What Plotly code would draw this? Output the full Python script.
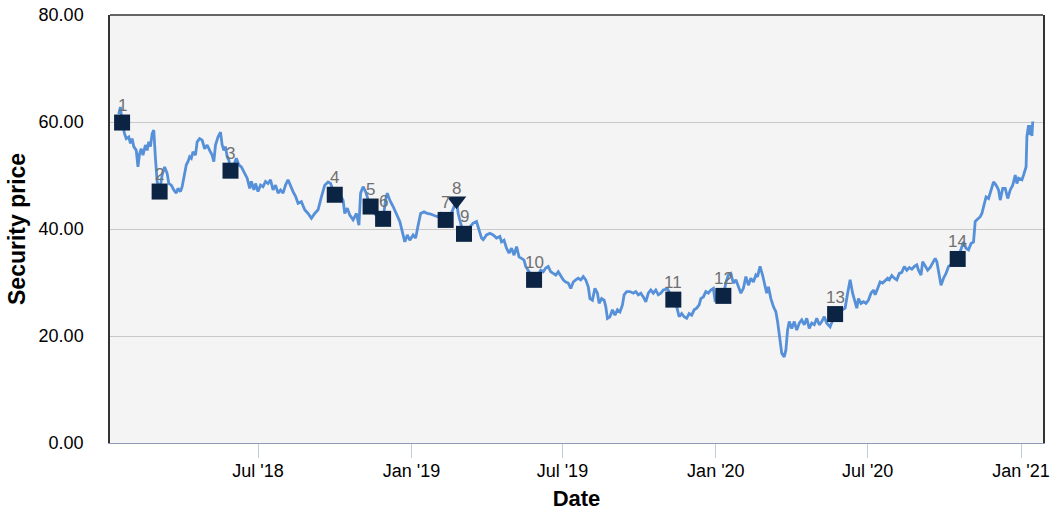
import pandas as pd
import plotly.graph_objects as go

BASE_DATE = pd.Timestamp("2018-01-01")

# security price series: days since BASE_DATE and price
price_days = [14, 16, 18, 19, 21, 23, 26, 28, 30, 32, 35, 37, 39, 41, 43, 46, 48, 50, 52, 54, 56, 58, 60, 63,
              66, 69, 72, 74, 77, 80, 83, 85, 88, 90, 92, 95, 97, 99, 101, 103, 106, 108, 111, 114, 117, 120,
              123, 126, 128, 130, 133, 136, 138, 140, 142, 144, 146, 148, 152, 155, 158, 161, 165, 168, 171,
              173, 176, 178, 181, 184, 187, 190, 193, 196, 199, 202, 205, 208, 211, 214, 217, 220, 223, 226,
              229, 233, 237, 241, 245, 249, 253, 257, 261, 265, 268, 273, 278, 283, 285, 288, 291, 295, 299,
              302, 304, 307, 310, 313, 316, 320, 326, 331, 334, 336, 339, 343, 347, 351, 354, 357, 360, 363,
              367, 370, 373, 376, 380, 384, 388, 392, 396, 400, 406, 409, 413, 419, 421, 425, 428, 433, 439,
              443, 446, 449, 451, 455, 459, 463, 467, 471, 473, 476, 479, 482, 485, 488, 491, 494, 497, 500,
              502, 507, 512, 517, 520, 523, 526, 529, 532, 535, 538, 541, 544, 547, 550, 553, 556, 559, 562,
              565, 568, 571, 574, 577, 579, 582, 585, 588, 590, 593, 596, 598, 600, 603, 606, 609, 612, 615,
              618, 620, 623, 627, 631, 634, 637, 640, 643, 646, 649, 652, 655, 658, 661, 664, 667, 672, 679,
              683, 686, 689, 692, 695, 698, 701, 704, 707, 710, 712, 715, 718, 721, 724, 727, 729, 734, 739,
              742, 745, 748, 751, 754, 757, 760, 763, 766, 769, 772, 775, 778, 780, 783, 786, 788, 791, 793,
              796, 799, 802, 804, 807, 809, 812, 814, 816, 818, 821, 824, 827, 830, 833, 836, 839, 842, 845,
              848, 851, 854, 857, 860, 863, 867, 873, 878, 885, 888, 891, 894, 897, 899, 901, 904, 907, 910,
              913, 916, 919, 921, 924, 927, 930, 933, 936, 938, 941, 944, 947, 950, 953, 956, 959, 962, 965,
              968, 971, 973, 976, 978, 981, 984, 987, 990, 993, 995, 998, 1000, 1003, 1006, 1009, 1014, 1020,
              1024, 1027, 1030, 1033, 1036, 1039, 1041, 1043, 1047, 1049, 1052, 1054, 1057, 1060, 1063, 1066,
              1069, 1071, 1074, 1077, 1080, 1083, 1086, 1089, 1091, 1093, 1097, 1099, 1102, 1103, 1105, 1106,
              1107, 1109, 1110]
price_vals = [61.5, 62.8, 59.9, 59.0, 57.8, 56.9, 57.2, 56.0, 56.9, 55.4, 54.7, 51.6, 54.1, 55.0, 53.8, 55.7,
              54.7, 56.3, 55.4, 57.8, 58.5, 53.2, 48.9, 47.0, 50.1, 51.6, 50.4, 48.5, 48.2, 47.3, 46.7, 47.6,
              47.0, 47.9, 49.5, 52.0, 52.6, 53.5, 53.2, 54.4, 53.8, 56.3, 56.9, 56.6, 55.0, 55.7, 54.7, 53.8,
              52.6, 55.7, 57.2, 58.1, 55.7, 54.7, 55.4, 53.5, 52.9, 50.9, 52.0, 53.2, 52.0, 51.6, 50.4, 49.5,
              47.6, 48.9, 47.3, 48.5, 47.0, 48.2, 47.9, 48.9, 48.5, 49.2, 47.3, 48.2, 46.7, 47.3, 46.7, 48.2,
              49.2, 47.9, 47.0, 46.1, 44.8, 45.1, 43.6, 42.9, 42.0, 42.9, 43.6, 46.0, 48.2, 48.8, 48.5, 46.4,
              46.8, 45.4, 42.9, 43.9, 42.6, 41.7, 42.9, 40.7, 46.7, 47.9, 47.0, 45.5, 44.2, 43.0, 42.0, 41.9,
              45.5, 46.7, 45.4, 44.2, 42.9, 41.4, 39.5, 37.6, 38.9, 37.9, 38.9, 38.3, 40.7, 42.9, 43.2, 42.9,
              42.8, 42.6, 42.3, 42.9, 41.7, 40.7, 43.0, 45.3, 42.9, 40.5, 39.1, 40.0, 41.1, 41.4, 39.8, 38.3,
              38.0, 38.9, 39.2, 38.9, 38.3, 38.6, 37.6, 37.9, 36.4, 35.5, 36.4, 35.1, 36.7, 34.8, 34.5, 34.2,
              33.0, 31.8, 30.5, 31.5, 32.3, 32.0, 32.7, 33.0, 32.0, 31.7, 31.4, 32.0, 31.1, 30.5, 30.1, 29.9,
              28.9, 30.1, 30.5, 30.8, 30.5, 31.1, 30.5, 29.2, 27.0, 26.7, 28.9, 28.0, 26.1, 27.0, 26.7, 25.5,
              23.3, 23.6, 24.9, 23.9, 24.9, 24.5, 25.8, 27.7, 28.3, 28.3, 28.0, 28.3, 27.7, 28.0, 27.3, 26.4,
              28.0, 28.6, 28.0, 28.6, 27.7, 28.0, 28.6, 28.8, 26.8, 25.5, 23.6, 24.2, 23.6, 23.3, 24.2, 23.9,
              24.9, 25.2, 25.8, 27.0, 27.3, 28.3, 28.0, 28.6, 28.9, 26.7, 27.2, 27.5, 30.0, 31.4, 31.7, 29.9,
              30.5, 29.2, 28.0, 28.9, 31.1, 29.5, 30.8, 30.1, 31.4, 31.1, 33.0, 31.4, 29.9, 28.0, 29.2, 27.0,
              25.5, 24.5, 22.7, 19.6, 16.8, 16.1, 17.4, 21.1, 22.7, 21.4, 22.7, 21.1, 22.4, 23.0, 22.1, 23.3,
              21.4, 22.4, 22.1, 23.3, 22.1, 22.7, 23.6, 22.4, 21.7, 24.1, 24.6, 25.2, 28.0, 30.5, 28.0, 26.1,
              25.2, 27.0, 26.1, 26.4, 26.1, 26.7, 28.0, 28.6, 27.7, 28.9, 30.1, 29.9, 30.3, 30.8, 30.5, 31.3,
              30.8, 30.5, 31.7, 31.9, 33.0, 32.3, 32.8, 32.5, 33.0, 33.3, 32.3, 31.4, 33.9, 33.0, 32.3, 32.8,
              33.6, 34.5, 33.9, 31.1, 29.5, 30.8, 31.7, 33.0, 33.5, 34.4, 36.5, 37.6, 36.4, 36.1, 37.3, 37.6,
              41.4, 41.7, 42.3, 42.9, 44.8, 46.0, 45.7, 47.3, 48.8, 48.2, 47.3, 45.4, 47.6, 47.6, 45.7, 47.3,
              48.2, 50.1, 48.5, 49.5, 49.2, 50.1, 51.6, 57.3, 59.4, 57.6, 59.4, 57.4, 60.1]

# trade markers
marker_labels = ["1", "2", "3", "4", "5", "6", "7", "8", "9", "10", "11", "12", "13", "14"]
marker_days = [18, 63, 148, 273, 316, 331, 406, 419, 428, 512, 679, 739, 873, 1020]
marker_vals = [59.9, 47.0, 50.9, 46.4, 44.2, 41.9, 41.7, 45.3, 39.1, 30.5, 26.8, 27.5, 24.1, 34.4]
marker_kinds = ["square"] * 7 + ["triangle-down"] + ["square"] * 6

tick_dates = ["2018-07-01", "2019-01-01", "2019-07-01", "2020-01-01", "2020-07-01", "2021-01-01"]
tick_labels = ["Jul '18", "Jan '19", "Jul '19", "Jan '20", "Jul '20", "Jan '21"]
y_ticks = [0, 20, 40, 60, 80]

# styles
marker_sizes = [16 if k == "square" else 17 for k in marker_kinds]
label_shifts = [17 if k == "square" else 12 for k in marker_kinds]

price_dates = BASE_DATE + pd.to_timedelta(price_days, unit="D")
marker_dates = BASE_DATE + pd.to_timedelta(marker_days, unit="D")

FONT = "Arial, Liberation Sans, sans-serif"

fig = go.Figure()
fig.add_trace(go.Scatter(
    x=price_dates, y=price_vals, mode="lines",
    line=dict(color="#5590d9", width=2.8), hoverinfo="skip", showlegend=False))
fig.add_trace(go.Scatter(
    x=marker_dates, y=marker_vals, mode="markers",
    marker=dict(symbol=marker_kinds, size=marker_sizes, color="#0c2444",
                opacity=1, line=dict(width=0)),
    showlegend=False))

annotations = [
    dict(x=d, y=v, text=t, showarrow=False, xanchor="center", yanchor="middle",
         yshift=s, font=dict(family=FONT, size=17, color="#707070"))
    for d, v, t, s in zip(marker_dates, marker_vals, marker_labels, label_shifts)
]
annotations.append(dict(
    text="<b>Security price</b>", xref="paper", yref="paper", x=0, y=0.5,
    xanchor="center", yanchor="middle", xshift=-93, textangle=-90, showarrow=False,
    font=dict(family=FONT, size=23, color="#000")))

fig.update_layout(
    width=1052, height=511,
    margin=dict(l=110, r=9, t=15, b=68),
    paper_bgcolor="white", plot_bgcolor="#f4f4f4",
    font=dict(family=FONT, size=18, color="#000"),
    xaxis=dict(
        type="date", automargin=False,
        range=["2018-01-04 12:00", "2021-01-27 07:00"],
        tickvals=tick_dates, ticktext=tick_labels,
        ticks="outside", ticklen=14, tickcolor="#c3cddb", tickwidth=1,
        ticklabelstandoff=-3,
        showgrid=False, zeroline=False,
        showline=True, linecolor="#8c9cb2", linewidth=1,
        title=dict(text="<b>Date</b>", font=dict(size=22, family=FONT), standoff=14),
        tickfont=dict(size=18),
    ),
    yaxis=dict(
        automargin=False,
        range=[0, 80], tickvals=y_ticks, tickformat=".2f",
        showgrid=True, gridcolor="#c8c8c8", gridwidth=1,
        zeroline=False,
        showline=True, linecolor="#333333", linewidth=1.5, mirror=True,
        ticks="", ticklabelstandoff=21,
        tickfont=dict(size=18),
    ),
    annotations=annotations,
    shapes=[dict(type="line", xref="paper", yref="paper", x0=0, x1=1, y0=1, y1=1,
                 line=dict(color="#333333", width=1.5))],
)

fig.write_html("out.html", config={"displayModeBar": False})

# remove the default page margin so the figure sits at the window's top-left corner
with open("out.html", encoding="utf-8") as f:
    html = f.read()
html = html.replace("<body>", '<body style="margin:0;padding:0;overflow:hidden">', 1)
with open("out.html", "w", encoding="utf-8") as f:
    f.write(html)
